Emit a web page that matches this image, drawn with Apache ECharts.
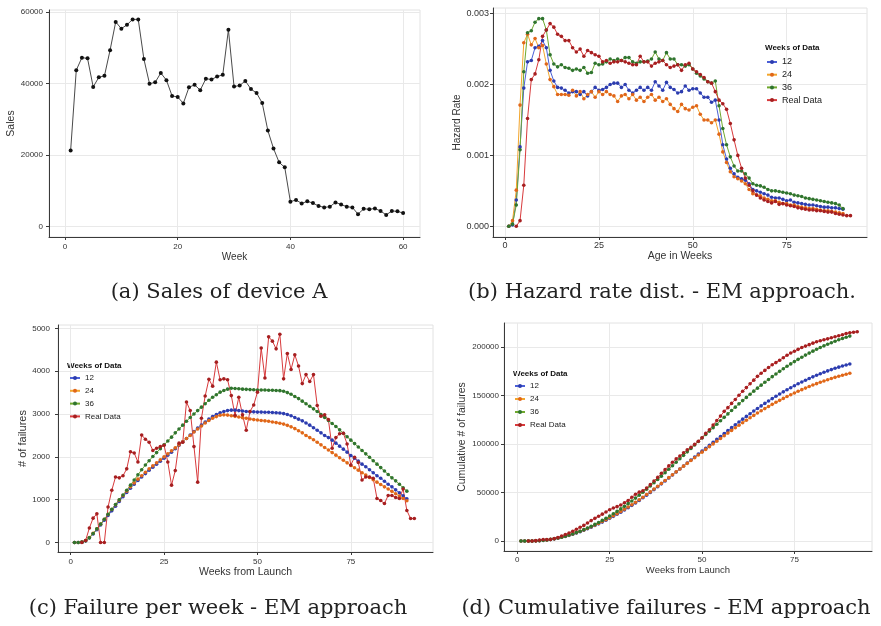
<!DOCTYPE html>
<html>
<head>
<meta charset="utf-8">
<script src="https://cdn.jsdelivr.net/npm/echarts@6/dist/echarts.min.js"></script>
<style>
  html, body { margin: 0; padding: 0; background: #fff; }
  #chart { width: 881px; height: 626px; }
</style>
</head>
<body>
<div id="chart"></div>
<script>
// ---- (a) weekly sales of device A, weeks 1..60 ----
const salesStart = 1;
const sales = [21300,43800,47300,47100,39100,41800,42200,49400,57300,55400,
  56500,58000,58000,46900,40000,40400,43000,41000,36600,36300,
  34500,39000,39700,38200,41400,41200,42000,42500,55100,39200,
  39500,40800,38500,37400,34600,26900,21900,18000,16600,7000,
  7500,6500,7100,6600,5800,5400,5600,6800,6200,5600,
  5400,3500,5000,4900,5100,4400,3300,4400,4300,3800];

// ---- (b) hazard rate by age (EM estimates start at week 1, real data at week 3) ----
const modelStart = 1;
const realStart = 3;
const hazard12 = [0.00000,0.00002,0.00037,0.00112,0.00195,0.00232,0.00234,0.00252,0.00254,0.00262,
  0.00252,0.00220,0.00205,0.00196,0.00195,0.00192,0.00188,0.00190,0.00190,0.00186,
  0.00190,0.00184,0.00190,0.00196,0.00192,0.00193,0.00196,0.00200,0.00202,0.00202,
  0.00196,0.00200,0.00192,0.00188,0.00192,0.00196,0.00192,0.00196,0.00192,0.00204,
  0.00198,0.00192,0.00203,0.00196,0.00193,0.00188,0.00190,0.00198,0.00192,0.00194,
  0.00194,0.00188,0.00182,0.00182,0.00175,0.00178,0.00150,0.00115,0.00095,0.00082,
  0.00074,0.00069,0.00067,0.00065,0.00060,0.00052,0.00050,0.00048,0.00046,0.00044,
  0.00041,0.00040,0.00040,0.00038,0.00036,0.00037,0.00034,0.00033,0.00032,0.00031,
  0.00030,0.00030,0.00029,0.00028,0.00027,0.00027,0.00026,0.00026,0.00025,0.00024];
const hazard24 = [0.00000,0.00008,0.00051,0.00171,0.00259,0.00271,0.00256,0.00265,0.00252,0.00255,
  0.00229,0.00207,0.00197,0.00186,0.00186,0.00186,0.00185,0.00192,0.00184,0.00190,
  0.00180,0.00186,0.00190,0.00182,0.00190,0.00186,0.00190,0.00186,0.00184,0.00176,
  0.00184,0.00186,0.00180,0.00186,0.00178,0.00182,0.00176,0.00182,0.00186,0.00178,
  0.00182,0.00176,0.00180,0.00172,0.00166,0.00162,0.00172,0.00166,0.00164,0.00168,
  0.00170,0.00158,0.00150,0.00150,0.00146,0.00150,0.00130,0.00105,0.00090,0.00077,
  0.00070,0.00067,0.00064,0.00060,0.00052,0.00046,0.00044,0.00043,0.00040,0.00038,
  0.00036,0.00036,0.00034,0.00032,0.00032,0.00030,0.00030,0.00028,0.00027,0.00026,
  0.00025,0.00025,0.00024,0.00023,0.00022,0.00022,0.00021,0.00020,0.00019,0.00018];
const hazard36 = [0.00000,0.00003,0.00030,0.00108,0.00218,0.00273,0.00276,0.00288,0.00293,0.00293,
  0.00277,0.00242,0.00229,0.00225,0.00228,0.00224,0.00223,0.00220,0.00222,0.00220,
  0.00224,0.00216,0.00217,0.00230,0.00228,0.00229,0.00232,0.00236,0.00234,0.00236,
  0.00234,0.00238,0.00238,0.00232,0.00230,0.00232,0.00232,0.00233,0.00236,0.00246,
  0.00236,0.00234,0.00245,0.00236,0.00236,0.00228,0.00228,0.00226,0.00228,0.00222,
  0.00216,0.00212,0.00208,0.00204,0.00202,0.00205,0.00170,0.00138,0.00115,0.00098,
  0.00085,0.00078,0.00078,0.00074,0.00068,0.00060,0.00058,0.00057,0.00055,0.00052,
  0.00050,0.00050,0.00049,0.00048,0.00047,0.00046,0.00044,0.00043,0.00042,0.00040,
  0.00039,0.00038,0.00037,0.00036,0.00035,0.00034,0.00033,0.00032,0.00030,0.00025];
const hazardReal = [0.00000,0.00008,0.00058,0.00152,0.00207,0.00215,0.00235,0.00268,0.00277,0.00286,
  0.00281,0.00271,0.00268,0.00262,0.00262,0.00252,0.00246,0.00250,0.00240,0.00248,
  0.00245,0.00242,0.00240,0.00232,0.00234,0.00230,0.00232,0.00232,0.00234,0.00232,
  0.00230,0.00228,0.00228,0.00240,0.00232,0.00232,0.00226,0.00230,0.00232,0.00234,
  0.00228,0.00224,0.00226,0.00228,0.00220,0.00228,0.00230,0.00222,0.00218,0.00214,
  0.00210,0.00204,0.00202,0.00190,0.00178,0.00173,0.00165,0.00145,0.00122,0.00100,
  0.00082,0.00068,0.00058,0.00050,0.00044,0.00040,0.00037,0.00035,0.00033,0.00035,
  0.00031,0.00032,0.00030,0.00029,0.00028,0.00026,0.00025,0.00024,0.00023,0.00023,
  0.00022,0.00022,0.00021,0.00020,0.00020,0.00018,0.00017,0.00016,0.00015,0.00015];

// ---- (c) failures per week ----
const fail12 = [0,0,10,40,110,200,300,410,520,630,
  740,850,960,1070,1170,1270,1360,1450,1530,1610,
  1690,1760,1830,1900,1970,2040,2110,2190,2270,2350,
  2430,2510,2590,2670,2740,2810,2880,2940,2990,3030,
  3060,3080,3090,3090,3080,3070,3060,3050,3050,3045,
  3045,3040,3040,3035,3030,3025,3010,2990,2960,2920,
  2880,2840,2790,2740,2680,2620,2560,2500,2450,2390,
  2320,2250,2180,2110,2030,1970,1900,1830,1770,1700,
  1630,1560,1500,1430,1360,1300,1230,1160,1090,1020];
const fail24 = [0,0,15,50,120,215,320,430,545,655,
  770,880,990,1100,1200,1300,1390,1480,1560,1640,
  1720,1790,1860,1930,2000,2070,2140,2210,2280,2350,
  2430,2500,2580,2650,2720,2790,2850,2900,2940,2970,
  2980,2975,2960,2945,2930,2915,2900,2885,2870,2860,
  2850,2840,2830,2815,2800,2785,2765,2735,2700,2660,
  2610,2560,2500,2450,2400,2340,2280,2220,2160,2100,
  2040,1980,1920,1860,1800,1745,1690,1630,1575,1520,
  1465,1410,1355,1300,1250,1195,1140,1085,1030,975];
const fail36 = [0,0,10,40,110,210,320,430,545,660,
  775,890,1000,1110,1220,1340,1460,1580,1700,1810,
  1910,2010,2100,2190,2280,2370,2460,2560,2650,2740,
  2830,2920,3000,3080,3160,3240,3320,3390,3450,3510,
  3550,3580,3600,3595,3590,3580,3575,3570,3565,3560,
  3560,3560,3555,3555,3550,3545,3530,3500,3460,3410,
  3360,3300,3240,3180,3120,3060,2990,2920,2850,2780,
  2710,2630,2550,2470,2390,2310,2230,2150,2070,1990,
  1910,1830,1750,1670,1590,1510,1440,1360,1280,1200];
const failReal = [0,50,340,570,670,0,0,830,1220,1530,
  1510,1560,1720,2120,2090,1880,2510,2410,2340,2150,
  2200,2240,2270,1880,1340,1680,2320,2340,3280,3080,
  2240,1410,2900,3420,3810,3650,4210,3800,3820,3800,
  3430,2970,3390,2980,2620,3060,3210,3510,4540,3840,
  4800,4700,4520,4860,3820,4410,4040,4380,4120,3710,
  3920,3760,3920,3200,2950,2980,2870,2200,2450,2540,
  2550,2300,1810,1990,1870,1460,1530,1530,1500,1030,
  980,910,1100,1100,1050,1030,1250,750,560,560];

// ---- (d) cumulative failures ----
const cum12 = [0,0,10,50,160,360,660,1070,1590,2220,
  2960,3810,4770,5840,7010,8280,9640,11090,12620,14230,
  15920,17680,19510,21410,23380,25420,27530,29720,31990,34340,
  36770,39280,41870,44540,47280,50090,52970,55910,58900,61930,
  64990,68070,71160,74250,77330,80400,83460,86510,89560,92600,
  95650,98690,101730,104760,107790,110820,113830,116820,119780,122700,
  125580,128420,131210,133950,136630,139250,141810,144310,146760,149150,
  151470,153720,155900,158010,160040,162010,163910,165740,167510,169210,
  170840,172400,173900,175330,176690,177990,179220,180380,181470,182490];
const cum24 = [0,0,15,65,185,400,720,1150,1695,2350,
  3120,4000,4990,6090,7290,8590,9980,11460,13020,14660,
  16380,18170,20030,21960,23960,26030,28170,30380,32660,35010,
  37440,39940,42520,45170,47890,50680,53530,56430,59370,62340,
  65320,68295,71255,74200,77130,80045,82945,85830,88700,91560,
  94410,97250,100080,102895,105695,108480,111245,113980,116680,119340,
  121950,124510,127010,129460,131860,134200,136480,138700,140860,142960,
  145000,146980,148900,150760,152560,154305,155995,157625,159200,160720,
  162185,163595,164950,166250,167500,168695,169835,170920,171950,172925];
const cum36 = [0,0,10,50,160,370,690,1120,1665,2325,
  3100,3990,4990,6100,7320,8660,10120,11700,13400,15210,
  17120,19130,21230,23420,25700,28070,30530,33090,35740,38480,
  41310,44230,47230,50310,53470,56710,60030,63420,66870,70380,
  73930,77510,81110,84705,88295,91875,95450,99020,102585,106145,
  109705,113265,116820,120375,123925,127470,131000,134500,137960,141370,
  144730,148030,151270,154450,157570,160630,163620,166540,169390,172170,
  174880,177510,180060,182530,184920,187230,189460,191610,193680,195670,
  197580,199410,201160,202830,204420,205930,207370,208730,210010,211210];
const cumReal = [0,50,390,960,1630,1630,1630,2460,3680,5210,
  6720,8280,10000,12120,14210,16090,18600,21010,23350,25500,
  27700,29940,32210,34090,35430,37110,39430,41770,45050,48130,
  50370,51780,54680,58100,61910,65560,69770,73570,77390,81190,
  84620,87590,90980,93960,96580,99640,102850,106360,110900,114740,
  119540,124240,128760,133620,137440,141850,145890,150270,154390,158100,
  162020,165780,169700,172900,175850,178830,181700,183900,186350,188890,
  191440,193740,195550,197540,199410,200870,202400,203930,205430,206460,
  207440,208350,209450,210550,211600,212630,213880,214630,215190,215750];

// ---- tick values and texts ----
const salesXTicks = [0, 20, 40, 60];
const salesYTicks = [0, 20000, 40000, 60000];
const weekTicks = [0, 25, 50, 75];
const hazardTicks = [0, 0.001, 0.002, 0.003];
const failTicks = [0, 1000, 2000, 3000, 4000, 5000];
const cumTicks = [0, 50000, 100000, 150000, 200000];
const seriesNames = ['12', '24', '36', 'Real Data'];
const legendTitle = 'Weeks of Data';
const captions = [
  '(a) Sales of device A',
  '(b) Hazard rate dist. - EM approach.',
  '(c) Failure per week - EM approach',
  '(d) Cumulative failures - EM approach'
];

// ---- styling ----
const SANS = 'Liberation Sans, Arial, sans-serif';
const SERIF = 'DejaVu Serif, serif';
const palette = {
  '12':        { line: '#4a5fd6', dot: '#2c3cae' },
  '24':        { line: '#f3a52c', dot: '#e0661a' },
  '36':        { line: '#6fa82e', dot: '#2f742f' },
  'Real Data': { line: '#d83a3c', dot: '#a61f20' }
};

const pairs = (start, vals) => vals.map((v, i) => [start + i, v]);

function xAxisCfg(idx, min, max, ticks, name, gap, nameSize, labelSize, margin) {
  return {
    type: 'value', gridIndex: idx, min, max,
    axisLine: { show: true, onZero: false, lineStyle: { color: '#3a3a3a', width: 1 } },
    axisTick: { show: true, length: 3, customValues: ticks, lineStyle: { color: '#3a3a3a' } },
    axisLabel: { customValues: ticks, fontSize: labelSize, color: '#333', fontFamily: SANS, margin,
                 formatter: v => String(v) },
    splitLine: { show: true, lineStyle: { color: '#e9e9e9', width: 1 } },
    name, nameLocation: 'middle', nameGap: gap,
    nameTextStyle: { fontSize: nameSize, color: '#333', fontFamily: SANS }
  };
}
function yAxisCfg(idx, min, max, ticks, name, gap, nameSize, labelSize, margin, fmt) {
  return {
    type: 'value', gridIndex: idx, min, max,
    axisLine: { show: true, onZero: false, lineStyle: { color: '#3a3a3a', width: 1 } },
    axisTick: { show: true, length: 3, customValues: ticks, lineStyle: { color: '#3a3a3a' } },
    axisLabel: { customValues: ticks, fontSize: labelSize, color: '#333', fontFamily: SANS, margin,
                 formatter: fmt || (v => String(v)) },
    splitLine: { show: true, lineStyle: { color: '#e9e9e9', width: 1 } },
    name, nameLocation: 'middle', nameGap: gap, nameRotate: 90,
    nameTextStyle: { fontSize: nameSize, color: '#333', fontFamily: SANS }
  };
}
function line(name, idx, start, vals, col, size) {
  return {
    type: 'line', name, xAxisIndex: idx, yAxisIndex: idx,
    data: pairs(start, vals),
    symbol: 'circle', symbolSize: size || 3.6,
    lineStyle: { color: col.line, width: 1 },
    itemStyle: { color: col.dot },
    emphasis: { disabled: true }, silent: true, animation: false
  };
}
function modelSet(idx, a12, a24, a36, aReal) {
  return [
    line('12', idx, modelStart, a12, palette['12']),
    line('24', idx, modelStart, a24, palette['24']),
    line('36', idx, modelStart, a36, palette['36']),
    line('Real Data', idx, realStart, aReal, palette['Real Data'])
  ];
}
function legendCfg(left, top, size, gap) {
  return {
    left, top, orient: 'vertical', padding: 0, itemGap: gap,
    itemWidth: 10, itemHeight: 5, selectedMode: false,
    data: seriesNames,
    textStyle: { fontSize: size, color: '#222', fontFamily: SANS, lineHeight: 10 }
  };
}

const gridStyle = { show: true, borderColor: '#e2e2e2', borderWidth: 1, backgroundColor: '#fff' };

const option = {
  backgroundColor: '#fff',
  animation: false,
  grid: [
    Object.assign({ left: 49, top: 10, width: 371, height: 227 }, gridStyle),
    Object.assign({ left: 493, top: 8, width: 374, height: 229 }, gridStyle),
    Object.assign({ left: 58, top: 325, width: 375, height: 227 }, gridStyle),
    Object.assign({ left: 504, top: 323, width: 368, height: 228 }, gridStyle)
  ],
  xAxis: [
    xAxisCfg(0, -2.84, 63.0, salesXTicks, 'Week', 12, 10, 8, 6),
    xAxisCfg(1, -3.2, 96.4, weekTicks, 'Age in Weeks', 11, 10.5, 9, 4),
    xAxisCfg(2, -3.4, 97.0, weekTicks, 'Weeks from Launch', 12, 10.5, 8, 6),
    xAxisCfg(3, -3.6, 96.0, weekTicks, 'Weeks from Launch', 11, 9.5, 8, 5)
  ],
  yAxis: [
    yAxisCfg(0, -2880, 60630, salesYTicks, 'Sales', 29, 10.5, 8, 6),
    yAxisCfg(1, -0.000151, 0.00308, hazardTicks, 'Hazard Rate', 23, 10, 9, 4, v => v.toFixed(3)),
    yAxisCfg(2, -220, 5077, failTicks, '# of failures', 22, 11, 8, 8),
    yAxisCfg(3, -10300, 224700, cumTicks, 'Cumulative # of failures', 36, 10.5, 8, 5)
  ],
  legend: [
    legendCfg(766, 57, 9, 2.7),
    legendCfg(69, 373, 8, 2.8),
    legendCfg(514, 381, 8, 3)
  ],
  graphic: [
    { type: 'text', left: 765, top: 44, style: { text: legendTitle, font: 'bold 8px ' + SANS, fill: '#111' } },
    { type: 'text', left: 67, top: 362, style: { text: legendTitle, font: 'bold 8px ' + SANS, fill: '#111' } },
    { type: 'text', left: 513, top: 370, style: { text: legendTitle, font: 'bold 8px ' + SANS, fill: '#111' } },
    { type: 'text', x: 219, y: 293, style: { text: captions[0], font: '21px ' + SERIF, fill: '#222', align: 'center', verticalAlign: 'middle' } },
    { type: 'text', x: 662, y: 293, style: { text: captions[1], font: '21px ' + SERIF, fill: '#222', align: 'center', verticalAlign: 'middle' } },
    { type: 'text', x: 218, y: 609, style: { text: captions[2], font: '21px ' + SERIF, fill: '#222', align: 'center', verticalAlign: 'middle' } },
    { type: 'text', x: 666, y: 609, style: { text: captions[3], font: '21px ' + SERIF, fill: '#222', align: 'center', verticalAlign: 'middle' } }
  ],
  series: [
    {
      type: 'line', name: 'Sales', xAxisIndex: 0, yAxisIndex: 0,
      data: pairs(salesStart, sales),
      symbol: 'circle', symbolSize: 4,
      lineStyle: { color: '#4a4a4a', width: 1 },
      itemStyle: { color: '#111' },
      emphasis: { disabled: true }, silent: true, animation: false
    },
    ...modelSet(1, hazard12, hazard24, hazard36, hazardReal),
    ...modelSet(2, fail12, fail24, fail36, failReal),
    ...modelSet(3, cum12, cum24, cum36, cumReal)
  ]
};

const chart = echarts.init(document.getElementById('chart'), null, { renderer: 'canvas' });
chart.setOption(option);
</script>
</body>
</html>
